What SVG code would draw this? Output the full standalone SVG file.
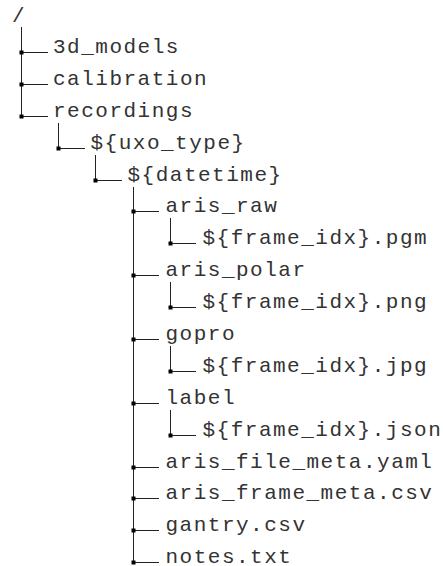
<svg xmlns="http://www.w3.org/2000/svg" width="443" height="566" viewBox="0 0 443 566">
  <style>
    text { font-family: "Liberation Mono", "Courier New", monospace; font-size: 21px; letter-spacing: 1.5px; fill: #333; }
    .ln { stroke: #222; stroke-width: 1; fill: none; }
    .dot { fill: #000; }
  </style>
  <defs>
    <!-- small square at each branch joint -->
    <rect id="j" x="-2" y="-2" width="4" height="4" class="dot"/>
  </defs>
  <rect width="443" height="566" fill="#fff"/>

  <!-- tree connectors -->
  <g id="connectors" class="ln">
    <!-- root -->
    <path d="M21.5 27 V116.5 M21.5 52.5 H48 M21.5 84.5 H48 M21.5 116.5 H48"/>
    <!-- recordings -->
    <path d="M58.5 123 V148.5 H85"/>
    <!-- uxo_type -->
    <path d="M95.5 155 V180.5 H122"/>
    <!-- datetime -->
    <path d="M133.5 187 V562.5 M133.5 211.5 H159 M133.5 275.5 H159 M133.5 339.5 H159 M133.5 403.5 H159 M133.5 467.5 H159 M133.5 498.5 H159 M133.5 530.5 H159 M133.5 562.5 H159"/>
    <!-- leaf folders -->
    <path d="M170.5 218 V243.5 H196 M170.5 282 V307.5 H196 M170.5 346 V371.5 H196 M170.5 410 V435.5 H196"/>
  </g>
  <g id="joints">
    <use href="#j" x="21.5" y="52.5"/><use href="#j" x="21.5" y="84.5"/><use href="#j" x="21.5" y="116.5"/>
    <use href="#j" x="58.5" y="148.5"/>
    <use href="#j" x="95.5" y="180.5"/>
    <use href="#j" x="133.5" y="211.5"/><use href="#j" x="133.5" y="275.5"/><use href="#j" x="133.5" y="339.5"/>
    <use href="#j" x="133.5" y="403.5"/><use href="#j" x="133.5" y="467.5"/><use href="#j" x="133.5" y="498.5"/>
    <use href="#j" x="133.5" y="530.5"/><use href="#j" x="133.5" y="562.5"/>
    <use href="#j" x="170.5" y="243.5"/><use href="#j" x="170.5" y="307.5"/><use href="#j" x="170.5" y="371.5"/>
    <use href="#j" x="170.5" y="435.5"/>
  </g>

  <g id="root"><text x="12" y="22">/</text></g>
  <g id="n-3d_models"><text x="53" y="53">3d_models</text></g>
  <g id="n-calibration"><text x="53" y="85">calibration</text></g>
  <g id="n-recordings"><text x="53" y="117">recordings</text></g>
  <g id="n-uxo_type"><text x="90.5" y="149">${uxo_type}</text></g>
  <g id="n-datetime"><text x="127.5" y="181">${datetime}</text></g>
  <g id="n-aris_raw"><text x="165.5" y="212">aris_raw</text></g>
  <g id="n-pgm"><text x="202.5" y="244">${frame_idx}.pgm</text></g>
  <g id="n-aris_polar"><text x="165.5" y="276">aris_polar</text></g>
  <g id="n-png"><text x="202.5" y="308">${frame_idx}.png</text></g>
  <g id="n-gopro"><text x="165.5" y="340">gopro</text></g>
  <g id="n-jpg"><text x="202.5" y="372">${frame_idx}.jpg</text></g>
  <g id="n-label"><text x="165.5" y="404">label</text></g>
  <g id="n-json"><text x="202.5" y="436">${frame_idx}.json</text></g>
  <g id="n-file_meta"><text x="165.5" y="468">aris_file_meta.yaml</text></g>
  <g id="n-frame_meta"><text x="165.5" y="499">aris_frame_meta.csv</text></g>
  <g id="n-gantry"><text x="165.5" y="531">gantry.csv</text></g>
  <g id="n-notes"><text x="165.5" y="563">notes.txt</text></g>
</svg>
